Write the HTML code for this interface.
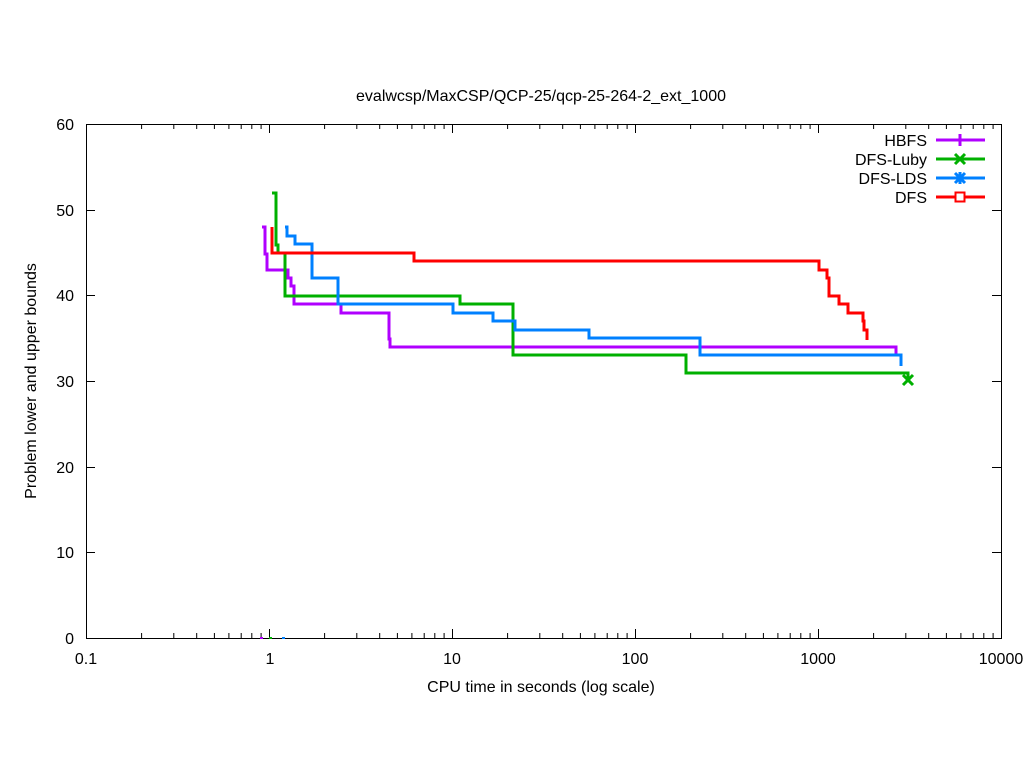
<!DOCTYPE html>
<html><head><meta charset="utf-8"><style>
body{margin:0;background:#fff}
svg{display:block;font-family:"Liberation Sans",sans-serif;font-size:16px}
</style></head><body>
<svg width="1024" height="768" xmlns="http://www.w3.org/2000/svg" xmlns:xlink="http://www.w3.org/1999/xlink">
<rect width="1024" height="768" fill="#fff"/>
<defs>
<path id="dec" d="M0,638v-9m55.1,9v-5m32.2,5v-5m22.9,5v-5m17.7,5v-5m14.5,5v-5m12.3,5v-5m10.6,5v-5m9.3,5v-5
M0,124v9m55.1,-9v5m32.2,-5v5m22.9,-5v5m17.7,-5v5m14.5,-5v5m12.3,-5v5m10.6,-5v5m9.3,-5v5" stroke="#000" fill="none"/>
</defs>
<use xlink:href="#dec" href="#dec" transform="translate(86.5,0)"/>
<use xlink:href="#dec" href="#dec" transform="translate(269.5,0)"/>
<use xlink:href="#dec" href="#dec" transform="translate(452.5,0)"/>
<use xlink:href="#dec" href="#dec" transform="translate(635.5,0)"/>
<use xlink:href="#dec" href="#dec" transform="translate(818.5,0)"/>
<path stroke="#000" fill="none" d="M86,552.5h9M86,467.5h9M86,381.5h9M86,295.5h9M86,210.5h9M1001,552.5h-9M1001,467.5h-9M1001,381.5h-9M1001,295.5h-9M1001,210.5h-9"/>
<rect x="86.5" y="124.5" width="915" height="514" fill="none" stroke="#000"/>
<text x="541" y="101" text-anchor="middle">evalwcsp/MaxCSP/QCP-25/qcp-25-264-2_ext_1000</text>
<text x="541" y="692" text-anchor="middle">CPU time in seconds (log scale)</text>
<text transform="translate(36,381) rotate(-90)" text-anchor="middle">Problem lower and upper bounds</text>
<g text-anchor="end">
<text x="74" y="644">0</text><text x="74" y="558">10</text><text x="74" y="473">20</text>
<text x="74" y="387">30</text><text x="74" y="301">40</text><text x="74" y="216">50</text><text x="74" y="130">60</text>
</g>
<g text-anchor="middle">
<text x="86" y="664">0.1</text><text x="270" y="664">1</text><text x="452" y="664">10</text>
<text x="635" y="664">100</text><text x="818" y="664">1000</text><text x="1001" y="664">10000</text>
</g>
<g fill="none" stroke-width="3">
<polyline stroke="#b000ff" points="262,227 265,227 265,254 267,254 267,270 288,270 288,278 291,278 291,286 294,286 294,304 341,304 341,313 389,313 389,339 390,339 390,347 896,347 896,354"/>
<polyline stroke="#00b000" points="272,193 276,193 276,245 278,245 278,253 285,253 285,296 460,296 460,304 513,304 513,355 686,355 686,373 908,373 908,380"/>
<polyline stroke="#0080ff" points="285,227 287,227 287,236 295,236 295,244 312,244 312,278 338,278 338,304 453,304 453,313 493,313 493,321 515,321 515,330 589,330 589,338 700,338 700,355 901,355 901,366"/>
<polyline stroke="#ff0000" points="272,227 272,253 414,253 414,261 819,261 819,270 827,270 827,278 829,278 829,296 839,296 839,304 848,304 848,313 863,313 863,321 864,321 864,330 867,330 867,340"/>
</g>
<path d="M903,375 l10,10 M913,375 l-10,10" stroke="#00b000" stroke-width="3"/>
<g stroke-width="2">
<line x1="260" y1="638" x2="263" y2="638" stroke="#b000ff"/>
<line x1="269" y1="638" x2="272" y2="638" stroke="#00b000"/>
<line x1="282" y1="638" x2="285" y2="638" stroke="#0080ff"/>
</g>
<g text-anchor="end">
<text x="927" y="146">HBFS</text><text x="927" y="165">DFS-Luby</text>
<text x="927" y="184">DFS-LDS</text><text x="927" y="203">DFS</text>
</g>
<g stroke-width="3" fill="none">
<line x1="936" y1="140" x2="985" y2="140" stroke="#b000ff"/><line x1="960" y1="134" x2="960" y2="146" stroke="#b000ff"/>
<line x1="936" y1="159" x2="985" y2="159" stroke="#00b000"/><path d="M955,154 l10,10 M965,154 l-10,10" stroke="#00b000"/>
<line x1="936" y1="178" x2="985" y2="178" stroke="#0080ff"/><path d="M955,173 l10,10 M965,173 l-10,10 M960,172 v12" stroke="#0080ff"/>
<line x1="936" y1="197" x2="985" y2="197" stroke="#ff0000"/><rect x="955.5" y="192.5" width="9" height="9" stroke="#ff0000" stroke-width="2" fill="#fff"/>
</g>
</svg>
</body></html>
